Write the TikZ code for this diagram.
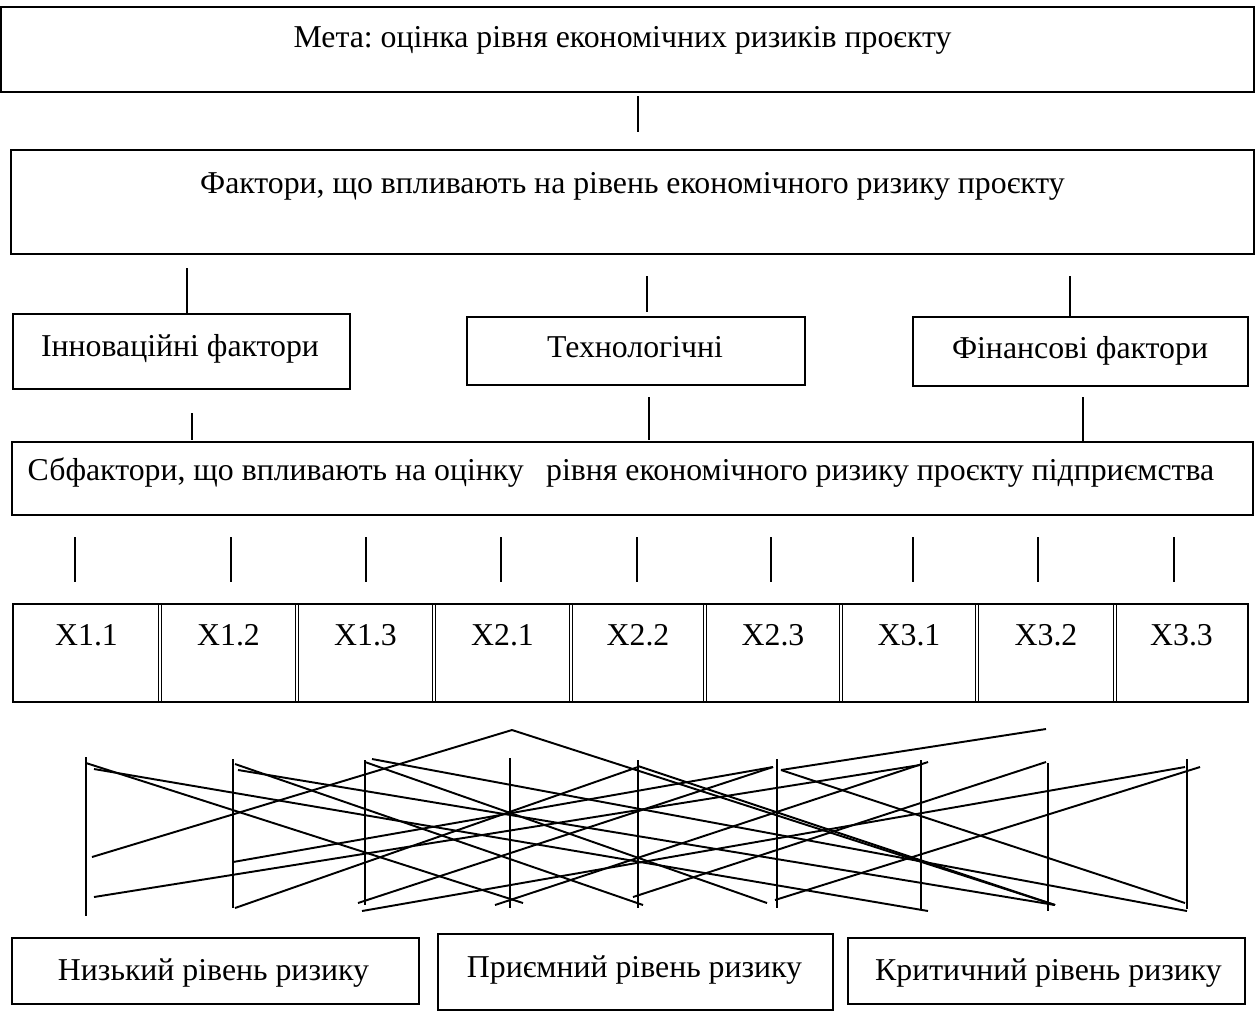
\documentclass[tikz,border=0pt]{standalone}
\usepackage{fontspec}
\setmainfont{Liberation Serif}
\usepackage{tikz}
\frenchspacing

\begin{document}
\begin{tikzpicture}[x=0.02cm, y=-0.02cm,
                    box/.style={draw, line width=1.1pt, inner sep=0pt},
                    lbl/.style={inner sep=0pt, anchor=base, font=\fontsize{18.1}{21}\selectfont},
                    ln/.style={line width=1.1pt},
                    dbl/.style={double, line width=0.6pt, double distance=1.5pt}]
                    \useasboundingbox (0,0) rectangle (1256,1012);
                    % Boxes
                    \node[box, minimum width=25.06cm, minimum height=1.70cm] (meta) at (627.5,49.5) {};
                    \node[box, minimum width=24.86cm, minimum height=2.08cm] (fact) at (632.5,202) {};
                    \node[box, minimum width=6.74cm, minimum height=1.50cm] (innov) at (181.5,351.5) {};
                    \node[box, minimum width=6.76cm, minimum height=1.36cm] (tech) at (636,351) {};
                    \node[box, minimum width=6.70cm, minimum height=1.38cm] (fin) at (1080.5,351.5) {};
                    \node[box, minimum width=24.82cm, minimum height=1.46cm] (sub) at (632.5,478.5) {};
                    \node[box, minimum width=8.14cm, minimum height=1.32cm] (low) at (215.5,971) {};
                    \node[box, minimum width=7.90cm, minimum height=1.52cm] (acc) at (635.5,972) {};
                    \node[box, minimum width=7.94cm, minimum height=1.32cm] (crit) at (1046.5,971) {};
                    % Texts
                    \node[lbl] (metaT) at (622.5,47) {Мета: оцінка рівня економічних ризиків проєкту};
                    \node[lbl] (factT) at (632.5,193) {Фактори, що впливають на рівень економічного ризику проєкту};
                    \node[lbl] (innovT) at (180,356) {Інноваційні фактори};
                    \node[lbl] (techT) at (635,357) {Технологічні};
                    \node[lbl] (finT) at (1080,358) {Фінансові фактори};
                    \node[lbl] (subT) at (621,480) {Сбфактори, що впливають на оцінку\hspace{0.7em}рівня економічного ризику проєкту підприємства};
                    \node[lbl] (lowT) at (213.5,980) {Низький рівень ризику};
                    \node[lbl] (accT) at (634.5,977) {Приємний рівень ризику};
                    \node[lbl] (critT) at (1048.5,980) {Критичний рівень ризику};
                    % Table of subfactors
                    \foreach \n/\t/\x in {11/1.1/86.5, 12/1.2/228.5, 13/1.3/365.5, 21/2.1/502.5, 22/2.2/638,
                                          23/2.3/773, 31/3.1/909, 32/3.2/1046, 33/3.3/1181.5}
                        \node[lbl] (x\n) at (\x,645) {X\t};
                    \foreach \x in {160,297,434,571,705,841,977,1115}
                        \draw[dbl] (\x,604) -- (\x,702);
                    \coordinate (tabNW) at (13,604);
                    \coordinate (tabSE) at (1248,702);
                    \draw[line width=1.6pt] (tabNW) rectangle (tabSE);
                    % Edges
                    \coordinate (m1) at (638,96);   \coordinate (m2) at (638,132);
                    \coordinate (f1) at (187,268);  \coordinate (f2) at (187,313);
                    \coordinate (f3) at (647,276);  \coordinate (f4) at (647,312);
                    \coordinate (f5) at (1070,276); \coordinate (f6) at (1070,317);
                    \coordinate (s1) at (192,413);  \coordinate (s2) at (192,440);
                    \coordinate (s3) at (649,397);  \coordinate (s4) at (649,440);
                    \coordinate (s5) at (1083,397); \coordinate (s6) at (1083,441);
                    \draw[ln] (m1) -- (m2);
                    \draw[ln] (f1) -- (f2);
                    \draw[ln] (f3) -- (f4);
                    \draw[ln] (f5) -- (f6);
                    \draw[ln] (s1) -- (s2);
                    \draw[ln] (s3) -- (s4);
                    \draw[ln] (s5) -- (s6);
                    \foreach \x [count=\i] in {75,231,366,501,637,771,913,1038,1174} {
                        \coordinate (t\i) at (\x,537);
                        \coordinate (u\i) at (\x,582);
                        \draw[ln] (t\i) -- (u\i);
                    }
                    % Crossing lines
                    \foreach \x/\a/\b in {86/757/916, 233/759/908, 365/760/905, 510/758/908, 638/760/908,
                                          777/759/908, 921/760/909, 1048/763/911, 1187/759/909}
                        \draw[ln] (\x,\a) -- (\x,\b);
                    \foreach \a/\b/\c/\d in {86/763/523/903, 94/769/928/911, 92/857/512/730, 512/730/1055/905,
                                             94/897/920/765, 235/764/643/905, 238/770/1055/905, 233/862/773/767,
                                             235/908/638/767, 358/903/773/767, 362/911/1185/767, 372/759/1187/911,
                                             365/762/767/903, 495/905/928/762, 633/897/1046/762, 781/770/1046/729,
                                             781/770/1185/903, 775/900/1200/767, 638/766/1055/905}
                        \draw[ln] (\a,\b) -- (\c,\d);
                \end{tikzpicture}
\end{document}
